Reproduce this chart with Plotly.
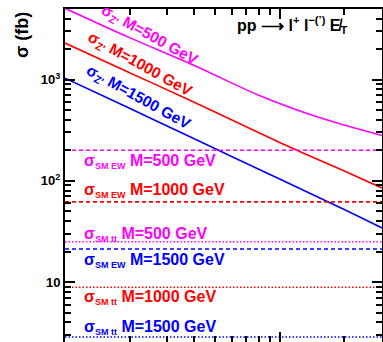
import math
import plotly.graph_objects as go

# ---- data -------------------------------------------------------------
# Z' signal cross sections (fb) versus the scan variable
zp500_x = [1, 2, 4, 8, 14, 20, 30]
zp500_y = [5050, 2590, 1376, 700, 448, 355, 280]

zp1000_x = [1, 2, 4, 10, 20, 30]
zp1000_y = [2290, 1168, 596, 239, 125, 85]

zp1500_x = [1, 2, 4, 10, 20, 30]
zp1500_y = [1030, 520, 260, 104, 52, 34.2]

# Standard-model backgrounds (fb), flat in the scan variable
masses = [500, 1000, 1500]
sm_ew = [200, 62, 21.2]
sm_tt = [25, 8.9, 2.87]

x_span = [1, 30]
y_tickvals = [10, 100, 1000]
y_ticktext = ["10", "10<sup>2</sup>", "10<sup>3</sup>"]

# ---- layout geometry ---------------------------------------------------
W, H = 383, 342
ML, MR, MT, MB = 65, 1, 9, 0
PW, PH = W - ML - MR, H - MT - MB

def px2paper(px, py):
    return (px - ML) / PW, (H - MB - py) / PH

colors = {500: "#ff00ff", 1000: "#ff0000", 1500: "#0000ff"}
FONT = "Liberation Sans, Arial, sans-serif"

fig = go.Figure()

for xs, ys, m in [(zp500_x, zp500_y, 500), (zp1000_x, zp1000_y, 1000),
                  (zp1500_x, zp1500_y, 1500)]:
    fig.add_trace(go.Scatter(x=xs, y=ys, mode="lines",
                             line=dict(color=colors[m], width=1.6, shape="spline"),
                             showlegend=False, hoverinfo="skip"))

for m, v in zip(masses, sm_ew):
    fig.add_trace(go.Scatter(x=x_span, y=[v, v], mode="lines",
                             line=dict(color=colors[m], width=1.6, dash="4px,3px"),
                             showlegend=False, hoverinfo="skip"))
for m, v in zip(masses, sm_tt):
    fig.add_trace(go.Scatter(x=x_span, y=[v, v], mode="lines",
                             line=dict(color=colors[m], width=1.6, dash="1.5px,2px"),
                             showlegend=False, hoverinfo="skip"))

annotations = []

def label(text, px, py, color, size=16, angle=0, xanchor="center", weight="bold"):
    ax, ay = px2paper(px, py)
    annotations.append(dict(text=text, x=ax, y=ay, xref="paper", yref="paper",
                            showarrow=False, textangle=angle, xanchor=xanchor,
                            yanchor="middle",
                            font=dict(family=FONT, size=size, color=color,
                                      weight=weight)))

sub = "<sub><span style='font-size:9px'>{}</span></sub>"

# slanted signal labels, running parallel to their curves
label("σ<sub>Z'</sub> M=500 GeV", 150, 35, colors[500], size=15.5, angle=29)
label("σ<sub>Z'</sub> M=1000 GeV", 140, 64, colors[1000], size=15.5, angle=29)
label("σ<sub>Z'</sub> M=1500 GeV", 138, 98, colors[1500], size=15.5, angle=29)

# flat background labels
label("σ" + sub.format("SM EW") + " M=500 GeV", 82, 161, colors[500], xanchor="left")
label("σ" + sub.format("SM EW") + " M=1000 GeV", 82, 190, colors[1000], xanchor="left")
label("σ" + sub.format("SM tt") + " M=500 GeV", 82, 234, colors[500], xanchor="left")
label("σ" + sub.format("SM EW") + " M=1500 GeV", 82, 260, colors[1500], xanchor="left")
label("σ" + sub.format("SM tt") + " M=1000 GeV", 82, 297, colors[1000], xanchor="left")
label("σ" + sub.format("SM tt") + " M=1500 GeV", 82, 327, colors[1500], xanchor="left")

# process label
label("pp ⟶ l<sup>+</sup> l<sup>−(ʼ)</sup> E̸<sub>T</sub>", 292, 25, "black", size=16)

# y axis title
label("σ (fb)", 22, 35, "black", size=18, angle=-90)

fig.update_layout(annotations=annotations)

minor_x = [2, 3, 4, 5, 6, 7, 8, 9, 20]
minor_y = [k * 10 ** e for e in range(0, 4) for k in range(2, 10)]

fig.update_xaxes(type="log", range=[math.log10(x_span[0]), math.log10(x_span[1])],
                 showline=True, linecolor="black", linewidth=2, mirror="allticks",
                 ticks="inside", ticklen=10, tickwidth=1.5, tickcolor="black",
                 tickvals=[10], showticklabels=False, showgrid=False, zeroline=False,
                 minor=dict(tickvals=minor_x, ticks="inside", ticklen=6,
                            tickwidth=1.5, tickcolor="black", showgrid=False))
fig.update_yaxes(type="log", range=[0.4087, 3.696],
                 showline=True, linecolor="black", linewidth=2, mirror="allticks",
                 ticks="inside", ticklen=10, tickwidth=1.5, tickcolor="black",
                 tickvals=y_tickvals, ticktext=y_ticktext,
                 tickfont=dict(family=FONT, size=13, color="black", weight="bold"),
                 showgrid=False, zeroline=False,
                 minor=dict(tickvals=minor_y, ticks="inside", ticklen=6,
                            tickwidth=1.5, tickcolor="black", showgrid=False))

fig.update_layout(width=W, height=H, margin=dict(l=ML, r=MR, t=MT, b=MB),
                  plot_bgcolor="white", paper_bgcolor="white", showlegend=False)

fig.write_html("out.html")
